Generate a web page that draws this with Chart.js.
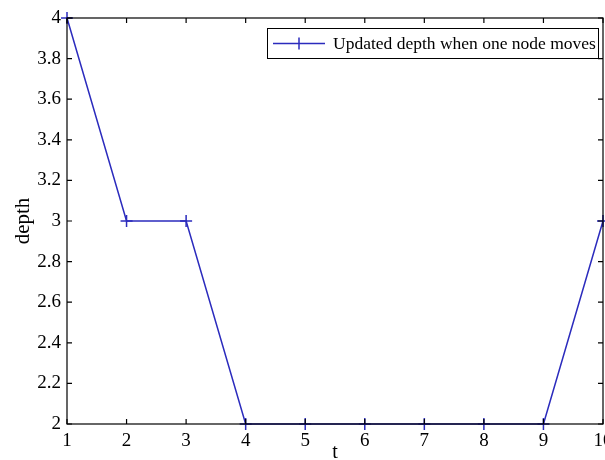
<!DOCTYPE html>
<html>
<head>
<meta charset="utf-8">
<script src="https://cdn.jsdelivr.net/npm/chart.js@4"></script>
<style>
  html, body { margin: 0; padding: 0; background: #fff; }
  #wrap { width: 605px; height: 460px; }
</style>
</head>
<body>
<div id="wrap"><canvas id="depthChart" width="605" height="460"></canvas></div>
<script>
// data
const tValues = ['1', '2', '3', '4', '5', '6', '7', '8', '9', '10'];
const depthValues = [4, 3, 3, 2, 2, 2, 2, 2, 2, 3];
const yTicks = [2, 2.2, 2.4, 2.6, 2.8, 3, 3.2, 3.4, 3.6, 3.8, 4];
const seriesLabel = 'Updated depth when one node moves';

const lineColor = '#2b2bbd';
const serif = "'Liberation Serif', 'Times New Roman', serif";

// matlab style box + inward ticks + boxed legend
const matlabBox = {
    id: 'matlabBox',
    afterDraw(chart) {
        const c = chart.ctx;
        const a = chart.chartArea;
        const xs = chart.scales.x, ys = chart.scales.y;
        c.save();
        c.strokeStyle = '#000';
        c.lineWidth = 1.2;
        c.strokeRect(a.left, a.top, a.right - a.left, a.bottom - a.top);
        const tl = 5;
        c.beginPath();
        tValues.forEach((v, i) => {
            const px = xs.getPixelForValue(i);
            c.moveTo(px, a.bottom); c.lineTo(px, a.bottom - tl);
            c.moveTo(px, a.top); c.lineTo(px, a.top + tl);
        });
        yTicks.forEach(v => {
            const py = ys.getPixelForValue(v);
            c.moveTo(a.left, py); c.lineTo(a.left + tl, py);
            c.moveTo(a.right, py); c.lineTo(a.right - tl, py);
        });
        c.stroke();

        // legend
        const bx = 267, by = 28, bw = 331, bh = 30;
        c.fillStyle = '#fff';
        c.fillRect(bx, by, bw, bh);
        c.lineWidth = 1;
        c.strokeRect(bx + 0.5, by + 0.5, bw, bh);
        const my = by + bh / 2 + 0.5;
        c.strokeStyle = lineColor;
        c.lineWidth = 1.5;
        c.beginPath();
        c.moveTo(273, my); c.lineTo(325, my);
        c.moveTo(299, my - 6); c.lineTo(299, my + 6);
        c.stroke();
        c.fillStyle = '#000';
        c.font = '17.5px ' + serif;
        c.textBaseline = 'middle';
        c.fillText(chart.data.datasets[0].label, 333, my + 1);
        c.restore();
    }
};

new Chart(document.getElementById('depthChart'), {
    type: 'line',
    data: {
        labels: tValues,
        datasets: [{
            label: seriesLabel,
            data: depthValues,
            borderColor: lineColor,
            borderWidth: 1.5,
            backgroundColor: lineColor,
            pointStyle: 'cross',
            pointRadius: 6,
            pointBorderWidth: 1.5,
            pointBorderColor: lineColor,
            tension: 0,
            clip: false
        }]
    },
    options: {
        responsive: false,
        animation: false,
        events: [],
        layout: { autoPadding: false, padding: { top: 18, right: 2, left: 0, bottom: 0 } },
        plugins: {
            legend: { display: false },
            tooltip: { enabled: false }
        },
        scales: {
            x: {
                offset: false,
                grid: { display: false, drawTicks: false },
                border: { display: false },
                ticks: {
                    color: '#000',
                    font: { family: serif, size: 19 },
                    padding: 6,
                    maxRotation: 0,
                    autoSkip: false
                },
                title: {
                    display: true,
                    text: 't',
                    color: '#000',
                    font: { family: serif, size: 20 },
                    padding: { top: -10, bottom: -5 }
                },
                afterFit(s) { s.height = 36; s.paddingRight = 0; s.paddingLeft = 0; }
            },
            y: {
                min: 2,
                max: 4,
                grid: { display: false, drawTicks: false },
                border: { display: false },
                afterBuildTicks(s) { s.ticks = yTicks.map(v => ({ value: v })); },
                ticks: {
                    color: '#000',
                    font: { family: serif, size: 19 },
                    padding: 6,
                    callback: v => String(Number(v.toFixed(1)))
                },
                title: {
                    display: true,
                    text: 'depth',
                    color: '#000',
                    font: { family: serif, size: 21 },
                    padding: { top: 11, bottom: 0 }
                },
                afterFit(s) { s.width = 67; s.paddingTop = 0; s.paddingBottom = 0; }
            }
        }
    },
    plugins: [matlabBox]
});
</script>
</body>
</html>
